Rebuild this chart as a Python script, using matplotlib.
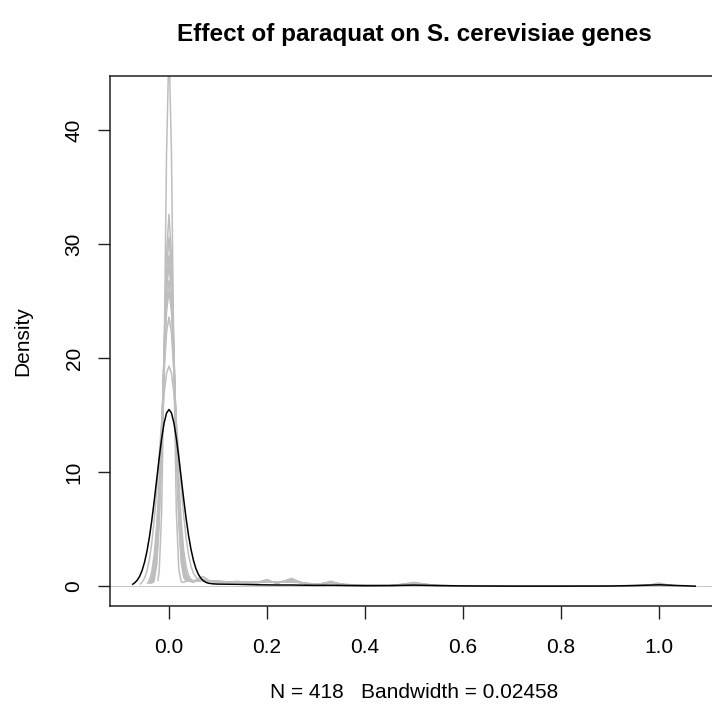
import matplotlib
matplotlib.use("Agg")
import matplotlib.pyplot as plt

# Density estimates.
# Grey curves: one per sample, shared x grid around the peak plus a shared tail grid.
peak_x = [-0.06, -0.055, -0.05, -0.045, -0.04, -0.035, -0.03, -0.025, -0.02, -0.015,
          -0.01, -0.005, 0.0, 0.005, 0.01, 0.015, 0.02, 0.025, 0.03, 0.035,
          0.04, 0.045, 0.05, 0.055, 0.06]

gray_start_x = [-0.0225, -0.0315, -0.0336, -0.0354, -0.0366, -0.0384, -0.0399, -0.0438, -0.0585]
gray_start_y = [0.53, 0.36, 0.34, 0.32, 0.31, 0.30, 0.29, 0.26, 0.21]

N = None
gray_peak_y = [
    [N, N, N, N, N, N, N, N, 1.36, 6.43, 19.5, 38.0, 47.5, 38.0, 19.5, 6.5, 1.5, 0.4, 0.35, 0.45, 0.5, 0.4, 0.35, 0.5, 0.7],
    [N, N, N, N, N, N, 0.55, 1.92, 5.31, 11.75, 20.7, 29.1, 32.6, 29.1, 20.7, 11.8, 5.4, 2.1, 0.8, 0.45, 0.45, 0.5, 0.5, 0.55, 0.6],
    [N, N, N, N, N, N, 0.85, 2.53, 6.21, 12.5, 20.5, 27.7, 30.6, 27.7, 20.5, 12.6, 6.3, 2.7, 1.1, 0.55, 0.5, 0.5, 0.5, 0.5, 0.55],
    [N, N, N, N, N, 0.36, 1.14, 3.07, 6.90, 12.93, 20.25, 26.5, 29.0, 26.5, 20.25, 13.0, 7.0, 3.25, 1.4, 0.7, 0.5, 0.45, 0.45, 0.45, 0.5],
    [N, N, N, N, N, 0.46, 1.37, 3.45, 7.36, 13.24, 20.15, 25.9, 28.2, 25.9, 20.15, 13.3, 7.5, 3.65, 1.65, 0.8, 0.5, 0.45, 0.45, 0.45, 0.45],
    [N, N, N, N, N, 0.64, 1.72, 3.98, 7.91, 13.49, 19.75, 24.8, 26.8, 24.8, 19.75, 13.55, 8.05, 4.2, 2.0, 1.0, 0.6, 0.45, 0.45, 0.45, 0.45],
    [N, N, N, N, N, 0.81, 2.04, 4.43, 8.36, 13.71, 19.52, 24.1, 25.9, 24.1, 19.52, 13.8, 8.5, 4.65, 2.35, 1.15, 0.7, 0.5, 0.45, 0.45, 0.45],
    [N, N, N, N, 0.55, 1.33, 2.86, 5.45, 9.23, 13.92, 18.67, 22.26, 23.6, 22.26, 18.67, 14.0, 9.4, 5.65, 3.15, 1.7, 0.95, 0.6, 0.45, 0.45, 0.45],
    [N, 0.36, 0.72, 1.35, 2.35, 3.85, 5.91, 8.48, 11.41, 14.36, 16.92, 18.68, 19.3, 18.68, 16.95, 14.45, 11.55, 8.7, 6.2, 4.2, 2.75, 1.75, 1.15, 0.8, 0.6],
]

tail_x = [0.07, 0.08, 0.09, 0.1, 0.12, 0.14, 0.16, 0.18, 0.2, 0.22, 0.25, 0.28, 0.3,
          0.33, 0.36, 0.4, 0.45, 0.5, 0.55, 0.6, 0.7, 0.8, 0.9, 0.97, 1.0, 1.03]

gray_tail_y = [
    [0.85, 0.55, 0.4, 0.45, 0.35, 0.45, 0.3, 0.35, 0.6, 0.25, 0.7, 0.15, 0.1, 0.45, 0.08, 0.04, 0.03, 0.35, 0.03, 0.02, 0.01, 0.01, 0.02, 0.03, 0.3, 0.01],
    [0.6, 0.5, 0.45, 0.42, 0.4, 0.38, 0.35, 0.32, 0.5, 0.3, 0.6, 0.2, 0.12, 0.38, 0.12, 0.05, 0.04, 0.28, 0.05, 0.03, 0.02, 0.02, 0.03, 0.05, 0.2, 0.03],
    [0.55, 0.5, 0.45, 0.42, 0.4, 0.36, 0.34, 0.33, 0.45, 0.32, 0.55, 0.22, 0.14, 0.36, 0.12, 0.06, 0.05, 0.26, 0.05, 0.03, 0.02, 0.02, 0.03, 0.06, 0.18, 0.04],
    [0.55, 0.5, 0.45, 0.42, 0.4, 0.38, 0.35, 0.33, 0.45, 0.32, 0.5, 0.22, 0.14, 0.34, 0.13, 0.06, 0.05, 0.25, 0.06, 0.03, 0.02, 0.02, 0.03, 0.06, 0.17, 0.04],
    [0.55, 0.48, 0.44, 0.42, 0.4, 0.37, 0.35, 0.34, 0.42, 0.33, 0.48, 0.24, 0.15, 0.33, 0.14, 0.06, 0.06, 0.24, 0.06, 0.03, 0.02, 0.02, 0.03, 0.06, 0.16, 0.05],
    [0.55, 0.48, 0.44, 0.42, 0.4, 0.37, 0.35, 0.34, 0.42, 0.34, 0.46, 0.25, 0.16, 0.32, 0.14, 0.07, 0.06, 0.23, 0.06, 0.03, 0.02, 0.02, 0.03, 0.07, 0.15, 0.05],
    [0.6, 0.48, 0.44, 0.42, 0.4, 0.37, 0.35, 0.34, 0.4, 0.34, 0.45, 0.26, 0.17, 0.31, 0.15, 0.07, 0.06, 0.22, 0.07, 0.03, 0.02, 0.02, 0.03, 0.07, 0.15, 0.05],
    [0.6, 0.47, 0.43, 0.41, 0.4, 0.37, 0.35, 0.34, 0.38, 0.35, 0.42, 0.27, 0.18, 0.3, 0.16, 0.08, 0.07, 0.2, 0.07, 0.04, 0.02, 0.02, 0.03, 0.08, 0.14, 0.06],
    [0.5, 0.45, 0.42, 0.4, 0.38, 0.36, 0.35, 0.34, 0.36, 0.35, 0.38, 0.28, 0.2, 0.27, 0.17, 0.09, 0.08, 0.17, 0.08, 0.04, 0.02, 0.02, 0.04, 0.09, 0.12, 0.07],
]

# Pooled density (black), N = 418, bw = 0.02458
black_x = [-0.074, -0.07, -0.065, -0.06, -0.055, -0.05, -0.045, -0.04, -0.035, -0.03,
           -0.025, -0.02, -0.015, -0.01, -0.005, 0.0, 0.005, 0.01, 0.015, 0.02,
           0.025, 0.03, 0.035, 0.04, 0.045, 0.05, 0.055, 0.06, 0.065, 0.07,
           0.075, 0.08, 0.09, 0.1, 0.12, 0.14, 0.16, 0.18, 0.2, 0.22,
           0.25, 0.28, 0.3, 0.33, 0.36, 0.4, 0.45, 0.5, 0.55, 0.6,
           0.7, 0.8, 0.9, 0.95, 1.0, 1.04, 1.074]
black_y = [0.19, 0.31, 0.53, 0.87, 1.38, 2.10, 3.07, 4.31, 5.82, 7.55,
           9.40, 11.25, 12.95, 14.31, 15.19, 15.5, 15.2, 14.33, 12.98, 11.3,
           9.47, 7.64, 5.93, 4.44, 3.22, 2.26, 1.55, 1.05, 0.72, 0.49,
           0.36, 0.28, 0.22, 0.2, 0.19, 0.18, 0.16, 0.14, 0.13, 0.12,
           0.12, 0.1, 0.09, 0.1, 0.08, 0.06, 0.07, 0.11, 0.07, 0.04,
           0.02, 0.02, 0.03, 0.07, 0.14, 0.07, 0.02]

x_ticks = [0.0, 0.2, 0.4, 0.6, 0.8, 1.0]
x_tick_labels = ["0.0", "0.2", "0.4", "0.6", "0.8", "1.0"]
y_ticks = [0, 10, 20, 30, 40]

title = "Effect of paraquat on S. cerevisiae genes"
x_label = "N = 418   Bandwidth = 0.02458"
y_label = "Density"

GREY = "#BEBEBE"

plt.rcParams["font.family"] = ["Liberation Sans", "DejaVu Sans"]

W, H = 712, 708
fig = plt.figure(figsize=(W / 100, H / 100), dpi=100)
ax = fig.add_axes([110 / W, 1 - 606 / H, 608 / W, (606 - 75.6) / H])

ax.axhline(0, color=GREY, lw=0.6, zorder=1)

for sx, sy, py, ty in zip(gray_start_x, gray_start_y, gray_peak_y, gray_tail_y):
    xs = [sx] + [x for x, y in zip(peak_x, py) if y is not None] + tail_x
    ys = [sy] + [y for y in py if y is not None] + ty
    ax.plot(xs, ys, color=GREY, lw=1.1, zorder=2)

ax.plot(black_x, black_y, color="black", lw=1.1, zorder=3)

ax.set_xlim(-0.1204, 1.1204)
ax.set_ylim(-1.72, 44.76)
ax.set_xticks(x_ticks)
ax.set_xticklabels(x_tick_labels)
ax.set_yticks(y_ticks)
ax.set_yticklabels([str(v) for v in y_ticks], rotation=90, va="center")
ax.tick_params(axis="both", length=9, width=1.0, labelsize=15, color="#222222")
ax.tick_params(axis="x", pad=14)
ax.tick_params(axis="y", pad=10)
for sp in ax.spines.values():
    sp.set_linewidth(1.1)
    sp.set_color("#222222")

fig.text(414 / W, 1 - 34 / H, title, ha="center", va="center",
         fontsize=17.5, fontweight="bold")
fig.text(414 / W, 1 - 693 / H, x_label, ha="center", va="center", fontsize=15)
fig.text(23 / W, 1 - 341 / H, y_label, ha="center", va="center", fontsize=15,
         rotation=90)

fig.savefig("out.png", dpi=100)
